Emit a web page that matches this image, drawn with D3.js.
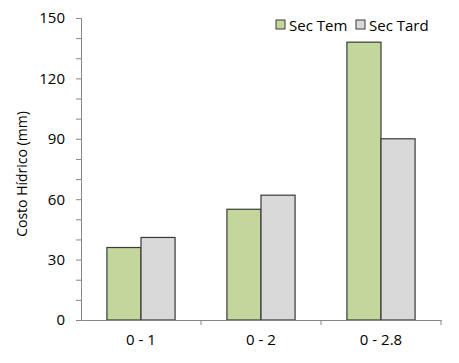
<!DOCTYPE html>
<html><head><meta charset="utf-8">
<script src="https://cdn.jsdelivr.net/npm/d3@7"></script>
<style>body{margin:0;background:#fff}svg{display:block}text{font-family:"Open Sans","Liberation Sans",sans-serif;fill:#000}</style>
</head><body><svg id="c" width="459" height="363"></svg>
<script>
const categories = ["0 - 1", "0 - 2", "0 - 2.8"];
const seriesNames = ["Sec Tem", "Sec Tard"];
const secTem = [36, 55, 138];
const secTard = [41, 62, 90];
const yTicks = [0, 30, 60, 90, 120, 150];
const colors = ["#c3d69b", "#d9d9d9"];

const svg = d3.select("#c");
const m = {l: 81, r: 441, t: 18, b: 320};
const x = d3.scaleBand().domain(categories).range([m.l, m.r]).paddingInner(0).paddingOuter(0);
const y = d3.scaleLinear().domain([0, 150]).range([m.b, m.t]);
const inner = d3.scaleBand().domain(seriesNames).range([0, x.bandwidth()]).paddingInner(0).paddingOuter(0.76);
const data = [secTem, secTard];

// bars
seriesNames.forEach((s, si) => {
  svg.append("g").selectAll("rect").data(categories).join("rect")
    .attr("x", (d) => x(d) + inner(s))
    .attr("y", (d, i) => y(data[si][i]))
    .attr("width", inner.bandwidth())
    .attr("height", (d, i) => y(0) - y(data[si][i]))
    .attr("fill", colors[si]).attr("stroke", "#3a3a3a").attr("stroke-width", 1.2);
});

// y axis
const ya = svg.append("g").attr("transform", `translate(${m.l},0)`)
  .call(d3.axisLeft(y).tickValues(d3.range(0, 151, 10)).tickSize(5).tickFormat(d => yTicks.includes(d) ? d : ""));
ya.select(".domain").attr("stroke", "#868686");
ya.selectAll(".tick line").attr("stroke", "#868686");
ya.selectAll(".tick text").attr("x", -16).attr("font-size", 15).attr("font-family", "Open Sans, Liberation Sans, sans-serif").attr("fill", "#000");

// x axis
const xa = svg.append("g").attr("transform", `translate(0,${m.b})`)
  .call(d3.axisBottom(x).tickSize(0).tickSizeOuter(0));
xa.select(".domain").attr("stroke", "#868686");
xa.selectAll(".tick text").attr("dy", 0).attr("y", 25).attr("font-size", 15).attr("font-family", "Open Sans, Liberation Sans, sans-serif").attr("fill", "#000");
const bounds = categories.map(c => x(c) + x.bandwidth());
svg.append("g").selectAll("line").data(bounds).join("line")
  .attr("x1", d => d).attr("x2", d => d).attr("y1", m.b).attr("y2", m.b + 5)
  .attr("stroke", "#868686");

// y label
svg.append("text").attr("transform", `translate(27,${(m.t + m.b) / 2 + 5}) rotate(-90)`)
  .attr("text-anchor", "middle").attr("font-size", 14).text("Costo Hídrico (mm)");

// legend
const lx = [276, 356];
seriesNames.forEach((s, i) => {
  svg.append("rect").attr("x", lx[i]).attr("y", 20).attr("width", 9).attr("height", 9)
    .attr("fill", colors[i]).attr("stroke", "#3a3a3a").attr("stroke-width", 1);
  svg.append("text").attr("x", lx[i] + 13).attr("y", 30.5).attr("font-size", 15).text(s);
});
</script></body></html>
